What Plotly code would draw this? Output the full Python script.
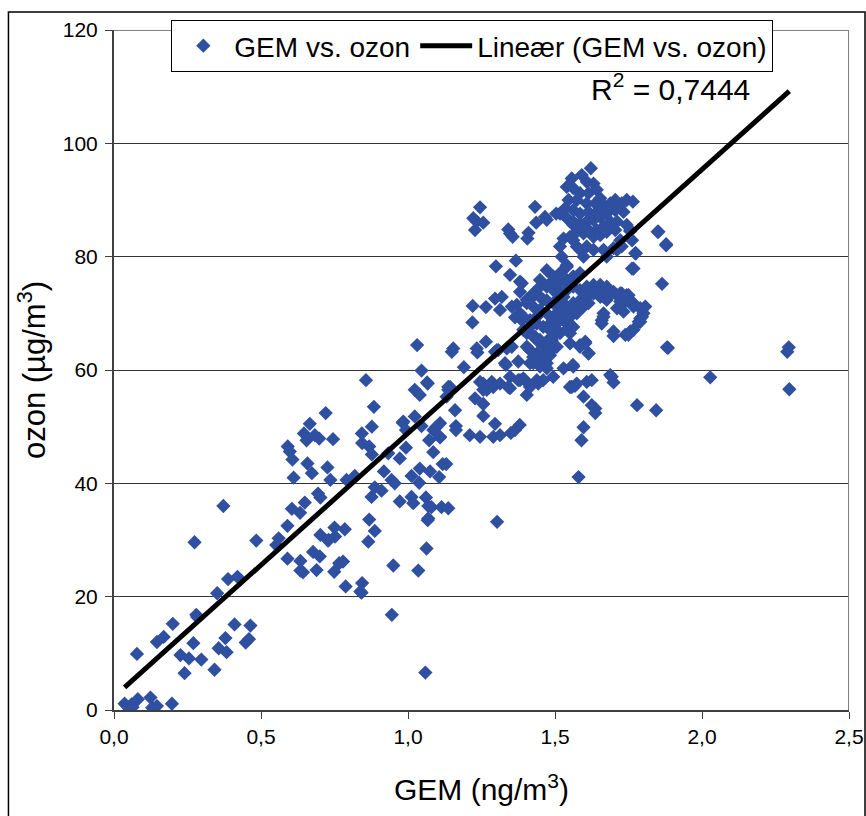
import plotly.graph_objects as go

# ---- data (GEM ng/m3, ozon ug/m3), grouped by region ----
low_points = [
    (0.036, 1.1), (0.05, 0.5), (0.06, 1.0), (0.081, 1.9), (0.052, 0.2), (0.063, 0.5), (0.124, 2.2), (0.13, 0.4), (0.146, 0.7), (0.197, 1.1),
    (0.078, 9.9), (0.146, 12.0), (0.169, 12.9), (0.2, 15.2), (0.28, 16.8), (0.283, 16.4), (0.351, 20.6), (0.388, 23.1), (0.42, 23.5), (0.226, 9.7),
    (0.24, 6.5), (0.255, 9.1), (0.27, 11.8), (0.297, 8.9), (0.342, 7.1), (0.356, 10.9), (0.379, 12.7), (0.383, 10.2), (0.41, 15.1), (0.448, 11.9),
    (0.459, 12.5), (0.464, 14.9), (0.274, 29.6), (0.372, 36.0), (0.484, 29.9),
]

mid_points = [
    (0.59, 32.5), (0.56, 30.3), (0.552, 29.1), (0.59, 26.7), (0.634, 26.3), (0.634, 24.6), (0.605, 35.5), (0.633, 34.8), (0.649, 36.6), (0.591, 46.5),
    (0.598, 45.6), (0.607, 44.2), (0.611, 41.0), (0.658, 43.5), (0.673, 41.8), (0.646, 48.8), (0.655, 47.6), (0.666, 50.5), (0.683, 48.5), (0.698, 47.9),
    (0.72, 52.4), (0.745, 47.8), (0.726, 42.8), (0.736, 40.6), (0.694, 38.2), (0.702, 37.5), (0.702, 30.9), (0.677, 27.9), (0.7, 27.1), (0.689, 24.7),
    (0.73, 30.0), (0.752, 30.6), (0.75, 32.2), (0.785, 31.9), (0.749, 24.4), (0.766, 25.9), (0.779, 26.2), (0.788, 21.8), (0.844, 22.4), (0.842, 20.7),
    (0.865, 29.7), (0.887, 31.6), (0.868, 33.6), (0.876, 37.6), (0.887, 39.3), (0.91, 38.7), (0.843, 48.8), (0.844, 47.1), (0.868, 46.5), (0.877, 45.1),
    (0.877, 50.0), (0.884, 53.5), (0.791, 40.6), (0.819, 41.3), (0.918, 42.1), (0.933, 45.3), (0.944, 40.6), (0.955, 40.0), (0.95, 25.5), (0.945, 16.8),
    (0.972, 44.4), (0.972, 36.8), (0.982, 50.7), (0.993, 49.4), (0.993, 46.3), (1.023, 51.8), (1.046, 50.1), (1.012, 41.3), (1.04, 42.6), (1.038, 40.1),
    (1.075, 42.1), (1.012, 37.6), (1.018, 36.5), (1.061, 37.5), (1.069, 36.0), (1.069, 33.8), (1.08, 35.8), (1.114, 35.8), (1.137, 35.6), (1.063, 28.5),
    (1.035, 24.6), (1.059, 6.6), (1.086, 49.4), (1.097, 50.0), (1.109, 50.6), (1.072, 47.6), (1.109, 48.1), (1.086, 45.5), (1.118, 43.4), (1.106, 41.1),
    (0.857, 58.2), (1.067, 57.6), (1.023, 56.5), (1.04, 55.6), (1.137, 57.0), (1.16, 52.9), (1.163, 50.1), (0.984, 50.9), (1.067, 33.5), (0.643, 24.3),
    (0.728, 29.9), (0.838, 20.9),
]

upper_mid_points = [
    (1.22, 71.3), (1.265, 71.1), (1.219, 68.4), (1.313, 70.6), (1.296, 72.6), (1.319, 72.9), (1.353, 71.2), (1.37, 71.5), (1.381, 70.0), (1.364, 69.3),
    (1.381, 73.8), (1.387, 75.3), (1.154, 63.8), (1.149, 63.2), (1.234, 63.8), (1.236, 63.1), (1.265, 65.0), (1.19, 60.5), (1.143, 57.0), (1.137, 56.5),
    (1.245, 57.9), (1.256, 56.5), (1.285, 57.9), (1.29, 57.0), (1.313, 57.6), (1.228, 55.0), (1.256, 54.0), (1.256, 51.9), (1.296, 63.2), (1.307, 63.5),
    (1.336, 63.8), (1.353, 64.1), (1.33, 61.2), (1.347, 58.8), (1.375, 61.5), (1.381, 58.2), (1.404, 55.6), (1.392, 58.5), (1.341, 57.0), (1.415, 61.2),
    (1.438, 58.2), (1.443, 57.6), (1.472, 60.3), (1.494, 58.8), (1.529, 60.3), (1.561, 60.9), (1.551, 57.0), (1.568, 57.2), (1.597, 55.3), (1.608, 57.9),
    (1.625, 58.2), (1.625, 53.8), (1.637, 53.2), (1.637, 52.4), (1.688, 59.1), (1.699, 57.8), (1.779, 53.8), (1.844, 52.9), (1.884, 63.9), (1.864, 75.2),
    (1.031, 64.4), (1.046, 59.9), (1.065, 57.8), (1.131, 55.3), (1.333, 60.9), (1.302, 63.5),
    (1.163, 49.4), (1.21, 48.5), (1.245, 48.2), (1.29, 48.2), (1.313, 48.5), (1.364, 49.4), (1.38, 50.3), (1.303, 33.2), (1.109, 48.2), (1.13, 43.4),
    (1.597, 49.9), (1.59, 47.6), (1.58, 41.1), (1.35, 48.9), (1.296, 50.5),
]

dense_points = [
    (1.699, 66.8), (1.739, 66.2), (1.756, 66.8), (1.767, 67.1), (1.79, 69.1), (1.801, 70.0), (1.807, 71.2), (1.767, 71.8), (1.744, 72.4), (1.727, 73.5),
    (1.699, 73.8), (1.676, 74.1), (1.665, 70.0), (1.659, 68.8), (1.642, 74.4), (1.631, 75.0), (1.665, 72.9), (1.614, 71.8), (1.585, 71.2), (1.562, 70.0),
    (1.54, 68.2), (1.551, 66.5), (1.506, 67.1), (1.489, 65.3), (1.5, 64.1), (1.551, 64.7), (1.585, 64.4), (1.603, 65.0), (1.614, 63.0),
    (1.404, 72.4), (1.426, 73.5), (1.449, 74.7), (1.483, 75.3), (1.506, 74.1), (1.529, 72.9), (1.54, 71.2), (1.46, 72.4), (1.438, 69.4), (1.415, 67.6),
    (1.432, 65.9), (1.449, 64.7), (1.404, 64.1), (1.426, 62.3), (1.46, 61.8), (1.483, 62.6), (1.472, 67.6), (1.494, 68.8), (1.517, 70.0), (1.506, 71.8),
    (1.466, 64.7), (1.483, 65.6), (1.472, 63.5), (1.392, 67.1), (1.387, 68.8),
    (1.688, 73.5), (1.711, 73.2), (1.733, 72.9), (1.75, 73.2), (1.722, 72.1), (1.711, 70.9), (1.733, 70.3), (1.767, 71.2), (1.796, 69.4), (1.785, 68.5),
    (1.665, 69.4), (1.75, 66.2),
    (1.256, 57.6), (1.268, 56.5), (1.279, 57.3), (1.347, 56.8), (1.375, 58.2), (1.398, 58.2), (1.415, 57.0), (1.46, 58.2), (1.562, 60.6), (1.557, 57.0),
    (1.574, 57.6), (1.693, 58.8),
    (1.654, 75.0), (1.676, 74.7), (1.722, 73.5), (1.744, 73.2), (1.654, 72.9), (1.676, 72.4), (1.722, 71.2), (1.79, 70.9), (1.79, 68.5), (1.659, 68.2),
    (1.699, 66.0), (1.881, 64.0), (1.767, 77.9), (1.775, 80.6), (1.849, 84.4), (1.878, 82.2), (1.756, 84.7),
    (1.472, 77.6), (1.494, 76.5), (1.517, 77.1), (1.54, 78.2), (1.449, 75.9), (1.472, 74.7), (1.494, 74.1), (1.517, 75.3), (1.54, 75.9), (1.562, 76.5),
    (1.585, 77.1), (1.426, 73.0), (1.449, 72.9), (1.472, 72.3), (1.494, 71.8), (1.517, 72.9), (1.54, 74.1), (1.562, 74.7), (1.585, 74.1), (1.608, 74.7),
    (1.404, 71.8), (1.426, 71.2), (1.449, 70.6), (1.472, 70.0), (1.494, 69.4), (1.517, 70.6), (1.54, 71.0), (1.562, 71.8), (1.585, 72.3), (1.608, 72.9),
    (1.631, 73.5), (1.392, 69.4), (1.415, 68.8), (1.438, 68.2), (1.46, 67.6), (1.483, 67.1), (1.506, 68.2), (1.529, 68.8), (1.551, 69.4), (1.574, 70.0),
    (1.597, 71.2), (1.404, 66.5), (1.426, 65.9), (1.449, 65.3), (1.472, 64.7), (1.494, 65.9), (1.517, 66.5), (1.54, 67.1), (1.562, 67.6), (1.415, 63.5),
    (1.438, 62.9), (1.46, 62.3), (1.483, 63.5), (1.506, 64.1), (1.426, 61.2), (1.449, 60.6), (1.472, 61.2), (1.585, 64.1), (1.614, 62.9), (1.603, 64.7),
]

top_points = [
    (1.245, 88.7), (1.222, 86.8), (1.234, 86.2), (1.256, 86.0), (1.228, 84.7), (1.341, 84.8), (1.347, 84.1), (1.356, 83.5), (1.41, 84.2), (1.406, 83.2),
    (1.432, 88.8), (1.436, 86.0), (1.466, 87.0), (1.472, 86.5), (1.504, 87.6), (1.299, 78.3), (1.367, 79.3), (1.347, 76.8), (1.381, 75.6), (1.523, 80.0),
    (1.54, 78.5), (1.517, 81.8), (1.529, 83.2), (1.551, 83.5), (1.562, 82.9), (1.574, 81.8), (1.585, 81.2), (1.608, 81.8), (1.631, 81.2), (1.597, 80.0),
    (1.665, 81.2), (1.676, 80.0), (1.699, 81.5), (1.711, 81.2), (1.727, 81.8), (1.762, 77.9), (1.773, 80.6), (1.756, 84.5), (1.762, 82.9), (1.852, 84.4),
    (1.878, 82.0), (1.622, 95.6), (1.557, 93.8), (1.591, 94.4), (1.608, 93.2), (1.631, 92.9), (1.54, 92.3), (1.562, 92.1), (1.585, 91.2), (1.614, 91.2),
    (1.642, 91.8), (1.546, 90.0), (1.574, 90.0), (1.608, 89.4), (1.637, 89.4), (1.654, 90.3), (1.534, 88.5), (1.562, 88.2), (1.585, 87.6), (1.614, 87.9),
    (1.642, 87.9), (1.665, 89.1), (1.517, 87.6), (1.54, 86.8), (1.562, 86.2), (1.585, 85.9), (1.608, 86.2), (1.631, 86.5), (1.654, 87.0), (1.676, 87.6),
    (1.688, 89.4), (1.705, 90.0), (1.727, 89.4), (1.744, 90.0), (1.765, 89.7), (1.733, 87.9), (1.705, 88.2), (1.688, 86.2), (1.711, 86.2), (1.665, 85.3),
    (1.642, 84.7), (1.62, 84.4), (1.597, 84.1), (1.574, 84.4), (1.562, 85.6), (1.608, 85.0), (1.631, 83.5), (1.654, 83.8), (1.676, 84.4), (1.705, 84.7),
    (1.722, 82.9), (1.744, 85.6),
]

outlier_points = [(2.295, 64.0), (2.29, 63.2), (2.297, 56.6), (2.028, 58.7)]

# linear trend (Excel "Lineær") coefficients and R^2 as shown
trend_slope = 46.54
trend_intercept = 2.32
r_squared_text = "0,7444"

x_ticks = [0.0, 0.5, 1.0, 1.5, 2.0, 2.5]
y_ticks = [0, 20, 40, 60, 80, 100, 120]

all_points = low_points + mid_points + upper_mid_points + dense_points + top_points + outlier_points
gem = [p[0] for p in all_points]
ozon = [p[1] for p in all_points]
trend_x = [min(gem), max(gem)]
trend_y = [trend_slope * v + trend_intercept for v in trend_x]

FONT = "Liberation Sans, Arial, sans-serif"
fig = go.Figure()
fig.add_trace(go.Scatter(
    x=gem, y=ozon, mode="markers", name="GEM vs. ozon",
    marker=dict(symbol="diamond", size=11, color="#2F4FA0", line=dict(width=0)),
))
fig.add_trace(go.Scatter(
    x=trend_x, y=trend_y, mode="lines", name="Lineær (GEM vs. ozon)",
    line=dict(color="black", width=5),
))

fig.update_layout(
    width=866, height=816,
    margin=dict(l=114, r=17, t=30, b=106, autoexpand=False),
    paper_bgcolor="white", plot_bgcolor="white",
    separators=", ",
    font=dict(family=FONT, color="black"),
    showlegend=True,
    legend=dict(
        orientation="h", x=0.078, y=1.0147, xanchor="left", yanchor="top",
        bgcolor="white", bordercolor="black", borderwidth=1,
        itemwidth=52,
        font=dict(size=28, family=FONT, color="black"),
    ),
    xaxis=dict(
        range=[0, 2.5], tickvals=x_ticks, tickformat=".1f", automargin=False,
        ticks="outside", ticklen=7, tickwidth=1, tickcolor="#404040",
        showline=True, linecolor="#404040", linewidth=2,
        showgrid=False, zeroline=False,
        tickfont=dict(size=21, family=FONT, color="black"),
        title=dict(text="GEM (ng/m<sup>3</sup>)", font=dict(size=30, family=FONT, color="black"), standoff=32),
    ),
    yaxis=dict(
        range=[0, 120], tickvals=y_ticks, automargin=False,
        ticks="outside", ticklen=7, tickwidth=1, tickcolor="#404040",
        showline=True, linecolor="#404040", linewidth=2, ticklabelstandoff=3,
        showgrid=True, gridcolor="#333333", gridwidth=1, zeroline=False,
        tickfont=dict(size=21, family=FONT, color="black"),
        title=dict(text="ozon (µg/m<sup>3</sup>)", font=dict(size=31, family=FONT, color="black"), standoff=8),
    ),
    shapes=[
        dict(type="line", xref="x", yref="y", x0=0, x1=2.5, y0=120, y1=120, line=dict(color="#808080", width=2)),
        dict(type="line", xref="x", yref="y", x0=2.5, x1=2.5, y0=0, y1=120, line=dict(color="#808080", width=2)),
        dict(type="rect", xref="paper", yref="paper", x0=-0.1436, x1=1.0218, y0=-0.2, y1=1.0265,
             line=dict(color="black", width=1.5), layer="below"),
    ],
    annotations=[
        dict(x=2.171, y=110.0, xref="x", yref="y", xanchor="right", yanchor="middle",
             text="R<sup>2</sup> = " + r_squared_text, showarrow=False,
             font=dict(size=30, family=FONT, color="black")),
    ],
)

fig.write_html("out.html")
